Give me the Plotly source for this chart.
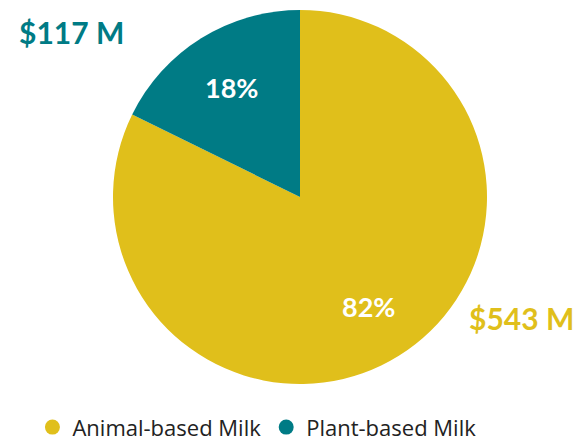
import math
import plotly.graph_objects as go

categories = ["Animal-based Milk", "Plant-based Milk"]
values_musd = [543, 117]
colours = ["#E0BF1B", "#007B85"]

W, H = 579, 443
# pie placement in pixels
CX, CY, R = 300, 197, 187

fig = go.Figure()

fig.add_trace(go.Pie(
    labels=categories,
    values=values_musd,
    sort=False,
    direction="clockwise",
    rotation=0,
    marker=dict(colors=colours, line=dict(width=0)),
    textinfo="none",
    domain=dict(x=[(CX - R) / W, (CX + R) / W], y=[1 - (CY + R) / H, 1 - (CY - R) / H]),
    showlegend=False,
    hoverinfo="label+value+percent",
))

# circle legend entries
for name, col in zip(categories, colours):
    fig.add_trace(go.Scatter(
        x=[None], y=[None], mode="markers", name=name,
        marker=dict(symbol="circle", size=15, color=col),
        showlegend=True,
    ))

# percentage labels placed at each slice's mid-angle
total = sum(values_musd)
cum = 0
for v in values_musd:
    mid = (cum + v / 2) / total * 2 * math.pi  # clockwise from 12 o'clock
    cum += v
    px = CX + 0.69 * R * math.sin(mid)
    py = CY - 0.69 * R * math.cos(mid)
    fig.add_annotation(
        x=px / W, y=1 - py / H, xref="paper", yref="paper",
        xanchor="center", yanchor="middle",
        text=f"<b>{v / total:.0%}</b>", showarrow=False,
        font=dict(color="white", size=27, family="Lato"),
    )

# value callouts
label_pos = [(576 / W, 1 - 318 / H, "right"), (17 / W, 1 - 32 / H, "left")]
for (x, y, anchor), v, col in zip(label_pos, values_musd, colours):
    fig.add_annotation(
        x=x, y=y, xref="paper", yref="paper", xanchor=anchor, yanchor="middle",
        text=f"<b>${v} M</b>", showarrow=False,
        font=dict(color=col, size=30, family="Lato"),
    )

fig.update_layout(
    width=W, height=H,
    margin=dict(l=0, r=0, t=0, b=0, autoexpand=False),
    paper_bgcolor="white",
    plot_bgcolor="white",
    xaxis=dict(visible=False),
    yaxis=dict(visible=False),
    legend=dict(
        orientation="h", x=0.056, xanchor="left", y=-0.012, yanchor="bottom",
        font=dict(size=22, family="Open Sans", color="#222"),
        itemsizing="trace", itemwidth=30,
    ),
)

fig.write_html(
    "out.html",
    config={"displayModeBar": False},
    post_script="document.body.style.margin='0px';",
)
